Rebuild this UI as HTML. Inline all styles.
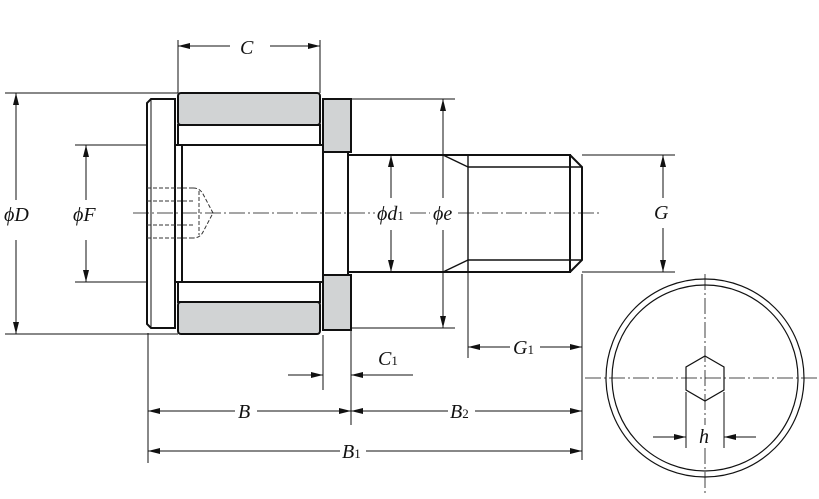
<!DOCTYPE html>
<html><head><meta charset="utf-8"><style>
html,body{margin:0;padding:0;background:#fff;}
svg{display:block}
text{font-family:"Liberation Serif",serif;font-style:italic;font-size:20px;fill:#111}
</style></head><body>
<svg width="819" height="499" viewBox="0 0 819 499" xmlns="http://www.w3.org/2000/svg">
<defs>
<marker id="a" viewBox="0 0 12 6" refX="12" refY="3" markerWidth="12" markerHeight="6" orient="auto-start-reverse" markerUnits="userSpaceOnUse"><path d="M0,0L12,3L0,6z" fill="#111"/></marker>
</defs>
<g stroke="#111" stroke-width="1" fill="none">
<line x1="5" y1="93" x2="178" y2="93"/>
<line x1="5" y1="334" x2="178" y2="334"/>
<line x1="75" y1="145" x2="178" y2="145"/>
<line x1="75" y1="282" x2="178" y2="282"/>
<line x1="178" y1="40" x2="178" y2="93"/>
<line x1="320" y1="40" x2="320" y2="93"/>
<line x1="351" y1="99" x2="455" y2="99"/>
<line x1="351" y1="328" x2="455" y2="328"/>
<line x1="582" y1="155" x2="675" y2="155"/>
<line x1="582" y1="272" x2="675" y2="272"/>
<line x1="148" y1="333" x2="148" y2="463"/>
<line x1="323" y1="335" x2="323" y2="390"/>
<line x1="351" y1="330" x2="351" y2="425"/>
<line x1="582" y1="274" x2="582" y2="460"/>
<line x1="468" y1="272" x2="468" y2="358"/>
<line x1="686" y1="392" x2="686" y2="448"/>
<line x1="724" y1="392" x2="724" y2="448"/>
<line x1="178" y1="46" x2="230" y2="46" marker-start="url(#a)"/>
<line x1="270" y1="46" x2="320" y2="46" marker-end="url(#a)"/>
<line x1="16" y1="93" x2="16" y2="200" marker-start="url(#a)"/>
<line x1="16" y1="240" x2="16" y2="334" marker-end="url(#a)"/>
<line x1="86" y1="145" x2="86" y2="200" marker-start="url(#a)"/>
<line x1="86" y1="240" x2="86" y2="282" marker-end="url(#a)"/>
<line x1="663" y1="155" x2="663" y2="198" marker-start="url(#a)"/>
<line x1="663" y1="228" x2="663" y2="272" marker-end="url(#a)"/>
<line x1="468" y1="347" x2="510" y2="347" marker-start="url(#a)"/>
<line x1="540" y1="347" x2="582" y2="347" marker-end="url(#a)"/>
<line x1="288" y1="375" x2="323" y2="375" marker-end="url(#a)"/>
<line x1="413" y1="375" x2="351" y2="375" marker-end="url(#a)"/>
<line x1="148" y1="411" x2="235" y2="411" marker-start="url(#a)"/>
<line x1="257" y1="411" x2="351" y2="411" marker-end="url(#a)"/>
<line x1="351" y1="411" x2="448" y2="411" marker-start="url(#a)"/>
<line x1="475" y1="411" x2="582" y2="411" marker-end="url(#a)"/>
<line x1="148" y1="451" x2="340" y2="451" marker-start="url(#a)"/>
<line x1="366" y1="451" x2="582" y2="451" marker-end="url(#a)"/>
<line x1="653" y1="437" x2="686" y2="437" marker-end="url(#a)"/>
<line x1="756" y1="437" x2="724" y2="437" marker-end="url(#a)"/>
</g>
<g stroke="#111" stroke-width="2" fill="none">
<path d="M151,99 L175,99 L175,328 L151,328 L147,324 L147,103 Z" fill="#fff"/>
<line x1="151" y1="99" x2="151" y2="328" stroke-width="1"/>
<path d="M175,145 L182,145 L182,282 L175,282"/>
<rect x="178" y="93" width="142" height="32" rx="3" fill="#d1d3d4"/>
<rect x="178" y="125" width="142" height="20" fill="#fff"/>
<rect x="178" y="282" width="142" height="20" fill="#fff"/>
<rect x="178" y="302" width="142" height="32" rx="3" fill="#d1d3d4"/>
<line x1="182" y1="145" x2="323" y2="145"/>
<line x1="182" y1="282" x2="323" y2="282"/>
<rect x="323" y="99" width="28" height="53" fill="#d1d3d4"/>
<rect x="323" y="275" width="28" height="55" fill="#d1d3d4"/>
<rect x="323" y="152" width="25" height="123" fill="#fff"/>
<rect x="348" y="155" width="222" height="117" fill="#fff"/>
<path d="M570,155 L582,167 L582,260 L570,272"/>
<g stroke-width="1.4">
<line x1="468" y1="167" x2="582" y2="167"/>
<line x1="468" y1="260" x2="582" y2="260"/>
<line x1="468" y1="155" x2="468" y2="272"/>
<line x1="443" y1="155" x2="468" y2="167"/>
<line x1="443" y1="272" x2="468" y2="260"/>
</g>
</g>
<g stroke="#111" stroke-width="1" fill="none">
<line x1="391" y1="155" x2="391" y2="198" marker-start="url(#a)"/>
<line x1="391" y1="230" x2="391" y2="272" marker-end="url(#a)"/>
<line x1="443" y1="99" x2="443" y2="198" marker-start="url(#a)"/>
<line x1="443" y1="230" x2="443" y2="328" marker-end="url(#a)"/>
</g>
<g stroke="#333" stroke-width="1" fill="none" stroke-dasharray="4,2">
<line x1="147" y1="188" x2="193" y2="188"/>
<line x1="147" y1="201" x2="193" y2="201"/>
<line x1="147" y1="225" x2="193" y2="225"/>
<line x1="147" y1="238" x2="193" y2="238"/>
<path d="M193,188 Q200,188 203,194 L213,213 L203,232 Q200,238 193,238"/>
<line x1="199" y1="191" x2="199" y2="235"/>
</g>
<g stroke="#111" stroke-width="1.2" fill="none">
<circle cx="705" cy="378" r="99"/>
<circle cx="705" cy="378" r="93"/>
<polygon points="705,356 724,367 724,390 705,401 686,390 686,367"/>
</g>
<g stroke="#111" fill="none" stroke-dasharray="16,3,2,3" stroke-width="0.8">
<line x1="133" y1="213" x2="375" y2="213"/>
<line x1="410" y1="213" x2="430" y2="213"/>
<line x1="458" y1="213" x2="600" y2="213"/>
<line x1="585" y1="378" x2="817" y2="378"/>
<line x1="705" y1="274" x2="705" y2="425"/>
<line x1="705" y1="448" x2="705" y2="495"/>
</g>
<text x="240" y="54">C</text>
<text x="4" y="221">ϕD</text>
<text x="73" y="221">ϕF</text>
<text x="377" y="220">ϕd<tspan font-size="13" font-style="normal">1</tspan></text>
<text x="433" y="220">ϕe</text>
<text x="654" y="219">G</text>
<text x="513" y="354">G<tspan font-size="13" font-style="normal">1</tspan></text>
<text x="378" y="365">C<tspan font-size="13" font-style="normal">1</tspan></text>
<text x="238" y="418">B</text>
<text x="450" y="418">B<tspan font-size="13" font-style="normal">2</tspan></text>
<text x="342" y="458">B<tspan font-size="13" font-style="normal">1</tspan></text>
<text x="699" y="443">h</text>
</svg>
</body></html>
